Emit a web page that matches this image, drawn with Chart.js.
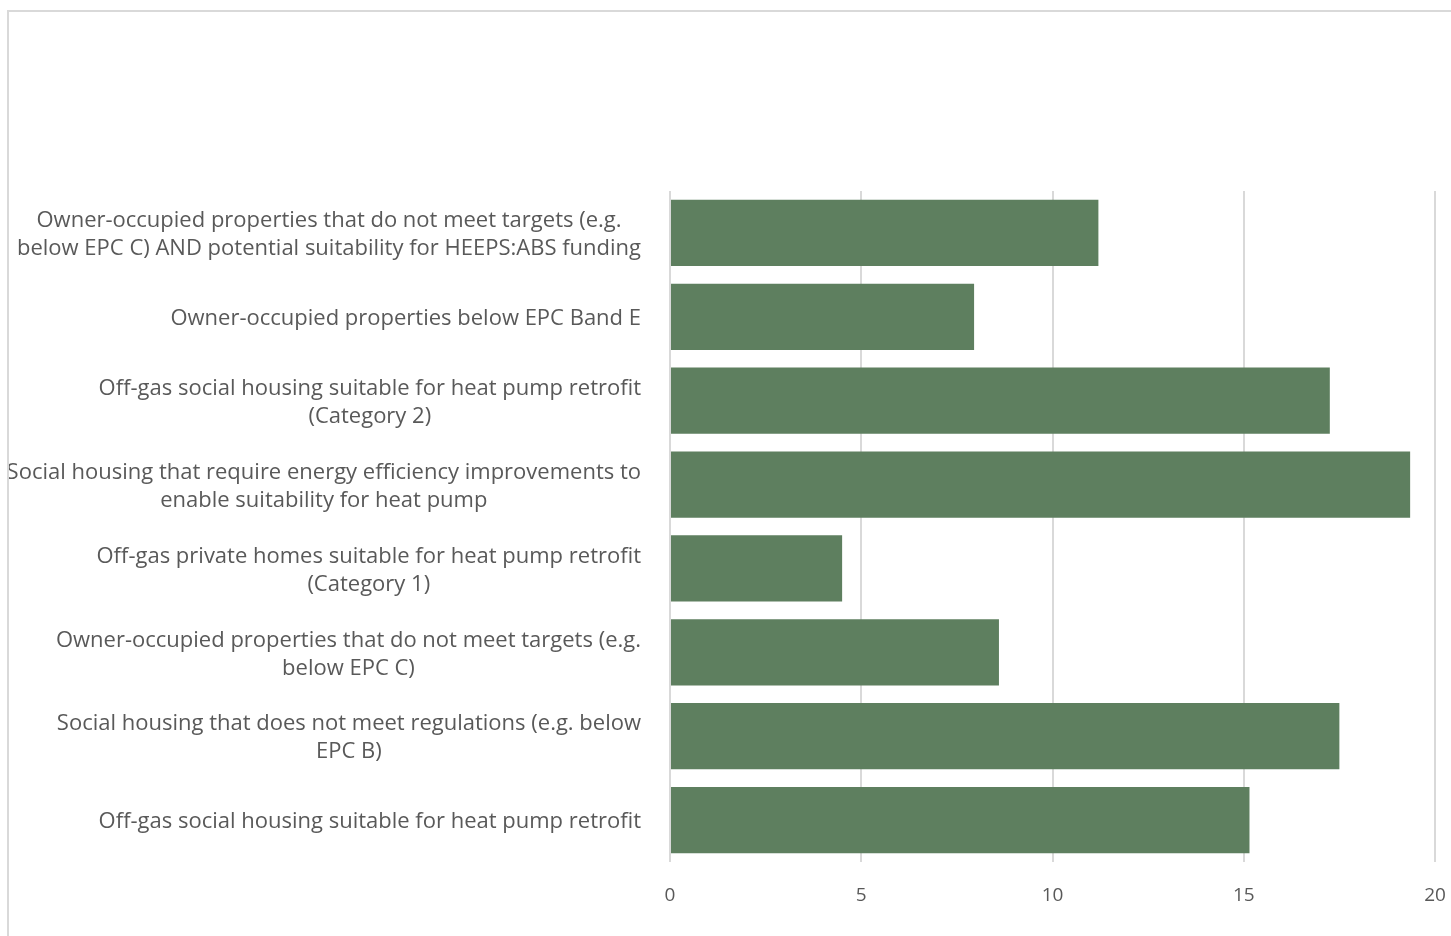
<!DOCTYPE html>
<html lang="en">
<head>
<meta charset="UTF-8">
<title>Housing categories</title>
<script src="https://cdn.jsdelivr.net/npm/chart.js"></script>
<style>
  html, body {
    margin: 0;
    padding: 0;
    background: #fff;
    overflow: hidden;
  }
  .frame {
    position: absolute;
    left: 7px;
    top: 10px;
    width: 2000px;
    height: 2000px;
    border: 2px solid #d9d9d9;
  }
  #chart {
    position: absolute;
    left: 0;
    top: 0;
  }
</style>
</head>
<body>
<div class="frame"></div>
<canvas id="chart" width="1451" height="936"></canvas>

<script>
// categories, one array of lines per bar (top to bottom)
const categories = [
  ['Owner-occupied properties that do not meet targets (e.g.', 'below EPC C) AND potential suitability for HEEPS:ABS funding'],
  ['Owner-occupied properties below EPC Band E'],
  ['Off-gas social housing suitable for heat pump retrofit', '(Category 2)'],
  ['Social housing that require energy efficiency improvements to', 'enable suitability for heat pump'],
  ['Off-gas private homes suitable for heat pump retrofit', '(Category 1)'],
  ['Owner-occupied properties that do not meet targets (e.g.', 'below EPC C)'],
  ['Social housing that does not meet regulations (e.g. below', 'EPC B)'],
  ['Off-gas social housing suitable for heat pump retrofit']
];
const values = [11.2, 7.95, 17.25, 19.35, 4.5, 8.6, 17.5, 15.15];
const xTicks = [0, 5, 10, 15, 20];

const textColor = '#595959';
const gridColor = '#d9d9d9';
const barColor = '#5e7f5f';
const fontFamily = '"Open Sans", "Noto Sans", sans-serif';

// category labels: each block right aligned, its lines centred on each other
const categoryLabels = {
  id: 'categoryLabels',
  afterDraw(chart) {
    const ctx = chart.ctx;
    const yScale = chart.scales.y;
    ctx.save();
    ctx.beginPath();
    ctx.rect(9, 12, chart.width, chart.height);
    ctx.clip();
    ctx.font = '22px ' + fontFamily;
    ctx.fillStyle = textColor;
    ctx.textAlign = 'center';
    ctx.textBaseline = 'middle';
    categories.forEach((lines, i) => {
      const yc = yScale.getPixelForValue(i) + 2;
      const widest = Math.max(...lines.map(l => ctx.measureText(l).width));
      const cx = 641 - widest / 2;
      lines.forEach((line, j) => {
        ctx.fillText(line, cx, yc + (j - (lines.length - 1) / 2) * 28);
      });
    });
    ctx.restore();
  }
};

new Chart(document.getElementById('chart'), {
  type: 'bar',
  data: {
    labels: categories,
    datasets: [{
      data: values,
      backgroundColor: barColor,
      borderWidth: 0,
      barPercentage: 0.79,
      categoryPercentage: 1
    }]
  },
  options: {
    indexAxis: 'y',
    responsive: false,
    animation: false,
    layout: { padding: { top: 191, right: 16, left: 0, bottom: 0 } },
    plugins: {
      legend: { display: false },
      tooltip: { enabled: false }
    },
    scales: {
      x: {
        min: 0,
        max: 20,
        afterBuildTicks: scale => { scale.ticks = xTicks.map(v => ({ value: v })); },
        afterFit: scale => {
          scale.height = 74;
          scale.paddingLeft = 0;
          scale.paddingRight = 0;
        },
        grid: { color: gridColor, lineWidth: 2, drawTicks: false },
        border: { display: false },
        ticks: {
          color: textColor,
          padding: 22,
          font: { family: fontFamily, size: 19 }
        }
      },
      y: {
        afterFit: scale => { scale.width = 670; },
        grid: { display: false },
        border: { display: false },
        ticks: { display: false }
      }
    }
  },
  plugins: [categoryLabels]
});
</script>
</body>
</html>
